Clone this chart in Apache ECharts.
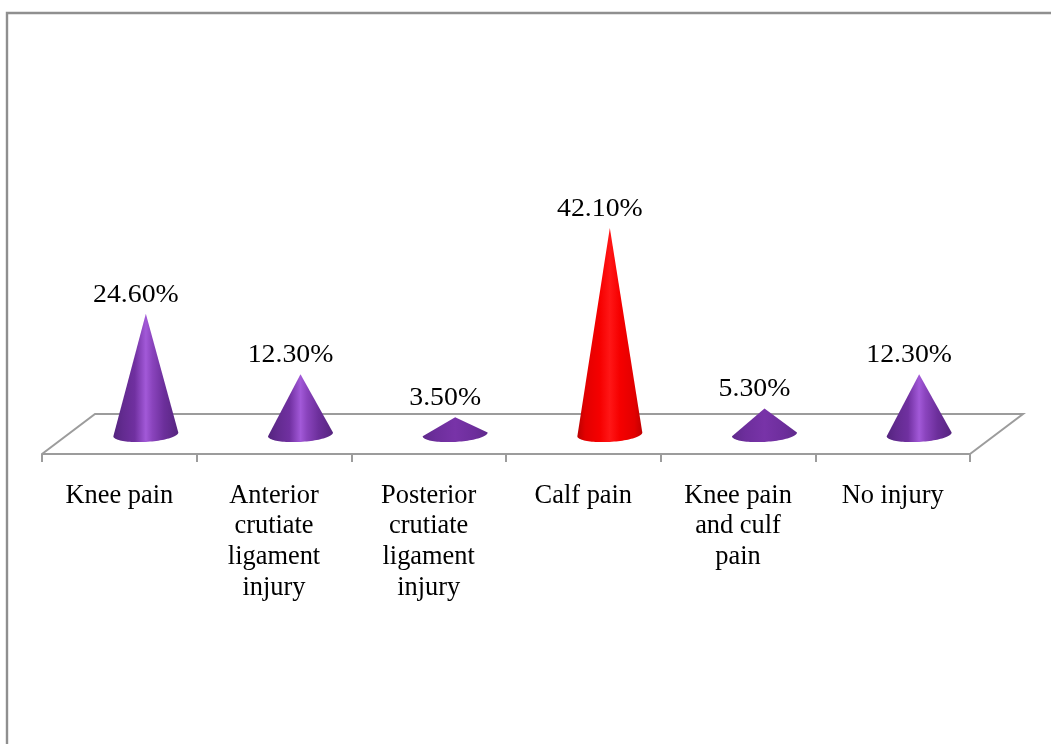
<!DOCTYPE html>
<html>
<head>
<meta charset="utf-8">
<style>html,body{margin:0;padding:0;background:#fff;overflow:hidden}#c{width:1051px;height:744px}</style>
<script src="https://cdn.jsdelivr.net/npm/echarts@6/dist/echarts.min.js"></script>
</head>
<body>
<div id="c"></div>
<script>
const categories = ['Knee pain', 'Anterior\ncrutiate\nligament\ninjury', 'Posterior\ncrutiate\nligament\ninjury', 'Calf pain', 'Knee pain\nand culf\npain', 'No injury'];
const values = [24.6, 12.3, 3.5, 42.1, 5.3, 12.3];
const highlighted = [false, false, false, true, false, false];

const FONT = '"Liberation Serif", "Times New Roman", serif';
const LINE = '#9c9c9c';
const DEPTH_X = 53, DEPTH_Y = 40;

const purple = [[0, '#54247f'], [0.15, '#632b90'], [0.33, '#7030a0'], [0.5, '#a259d8'], [0.6, '#8a44bd'], [0.78, '#6c2f9b'], [1, '#56257f']];
const purpleFlat = [[0, '#5f2a8c'], [0.2, '#6d2e9c'], [0.5, '#7833a8'], [0.8, '#6d2e9c'], [1, '#5f2a8c']];
const red = [[0, '#bb0000'], [0.12, '#e20000'], [0.35, '#f60000'], [0.5, '#ff1616'], [0.65, '#f60000'], [0.88, '#e20000'], [1, '#c00000']];

function gradient(stops) {
  return { type: 'linear', x: 0, y: 0, x2: 1, y2: 0, colorStops: stops.map(s => ({ offset: s[0], color: s[1] })) };
}

function renderCone(params, api) {
  const i = api.value(0);
  const v = api.value(1);
  const center = api.coord([i, 0]);
  const tip = api.coord([i, v]);
  const band = api.size([1, 0])[0];
  const cx = center[0] + DEPTH_X / 2;
  const cy = center[1];
  const rx = band * 0.21, ry = 7.5, tilt = 1.8;
  const pts = [[cx, tip[1]]];
  for (let k = 0; k <= 48; k++) {
    const a = Math.PI * k / 48;
    pts.push([cx + rx * Math.cos(a), cy + ry * Math.sin(a) - tilt * Math.cos(a)]);
  }
  const stops = highlighted[i] ? red : (v < 8 ? purpleFlat : purple);
  return {
    type: 'group',
    children: [
      { type: 'polygon', shape: { points: pts }, style: { fill: gradient(stops) } },
      {
        type: 'text', x: cx - 10, y: tip[1] - 19, scaleX: 1.09,
        style: { text: v.toFixed(2) + '%', font: '25.5px ' + FONT, fill: '#000', align: 'center', verticalAlign: 'middle' }
      }
    ]
  };
}

function renderFloor(params, api) {
  const cs = params.coordSys;
  const x0 = cs.x, x1 = cs.x + cs.width, y = cs.y + cs.height;
  return {
    type: 'polyline',
    shape: { points: [[x0, y], [x0 + DEPTH_X, y - DEPTH_Y], [x1 + DEPTH_X, y - DEPTH_Y], [x1, y]] },
    style: { fill: null, stroke: LINE, lineWidth: 2 }
  };
}

const chart = echarts.init(document.getElementById('c'), null, { renderer: 'canvas' });
chart.setOption({
  animation: false,
  backgroundColor: '#fff',
  grid: { left: 42, top: 42.4, width: 928, height: 411.6, containLabel: false },
  xAxis: {
    type: 'category',
    data: categories,
    boundaryGap: true,
    axisLine: { show: true, onZero: false, lineStyle: { color: LINE, width: 2 } },
    axisTick: { show: true, alignWithLabel: false, length: 8, lineStyle: { color: LINE, width: 2 } },
    axisLabel: { interval: 0, margin: 26.5, color: '#000', fontFamily: FONT, fontSize: 26.4, lineHeight: 30.7, align: 'center', verticalAlign: 'top' }
  },
  yAxis: { type: 'value', min: -4, max: 80, show: false, splitLine: { show: false } },
  series: [
    { type: 'custom', clip: false, silent: true, z: 1, data: [[0, 0]], renderItem: renderFloor, encode: { x: 0, y: 1 } },
    { type: 'custom', clip: false, silent: true, z: 2, data: values.map((v, i) => [i, v]), renderItem: renderCone, encode: { x: 0, y: 1 } }
  ],
  graphic: [{
    type: 'polyline', silent: true,
    shape: { points: [[7, 744], [7, 13], [1051, 13]] },
    style: { fill: null, stroke: '#8f8f8f', lineWidth: 2.4 }
  }]
});
</script>
</body>
</html>
